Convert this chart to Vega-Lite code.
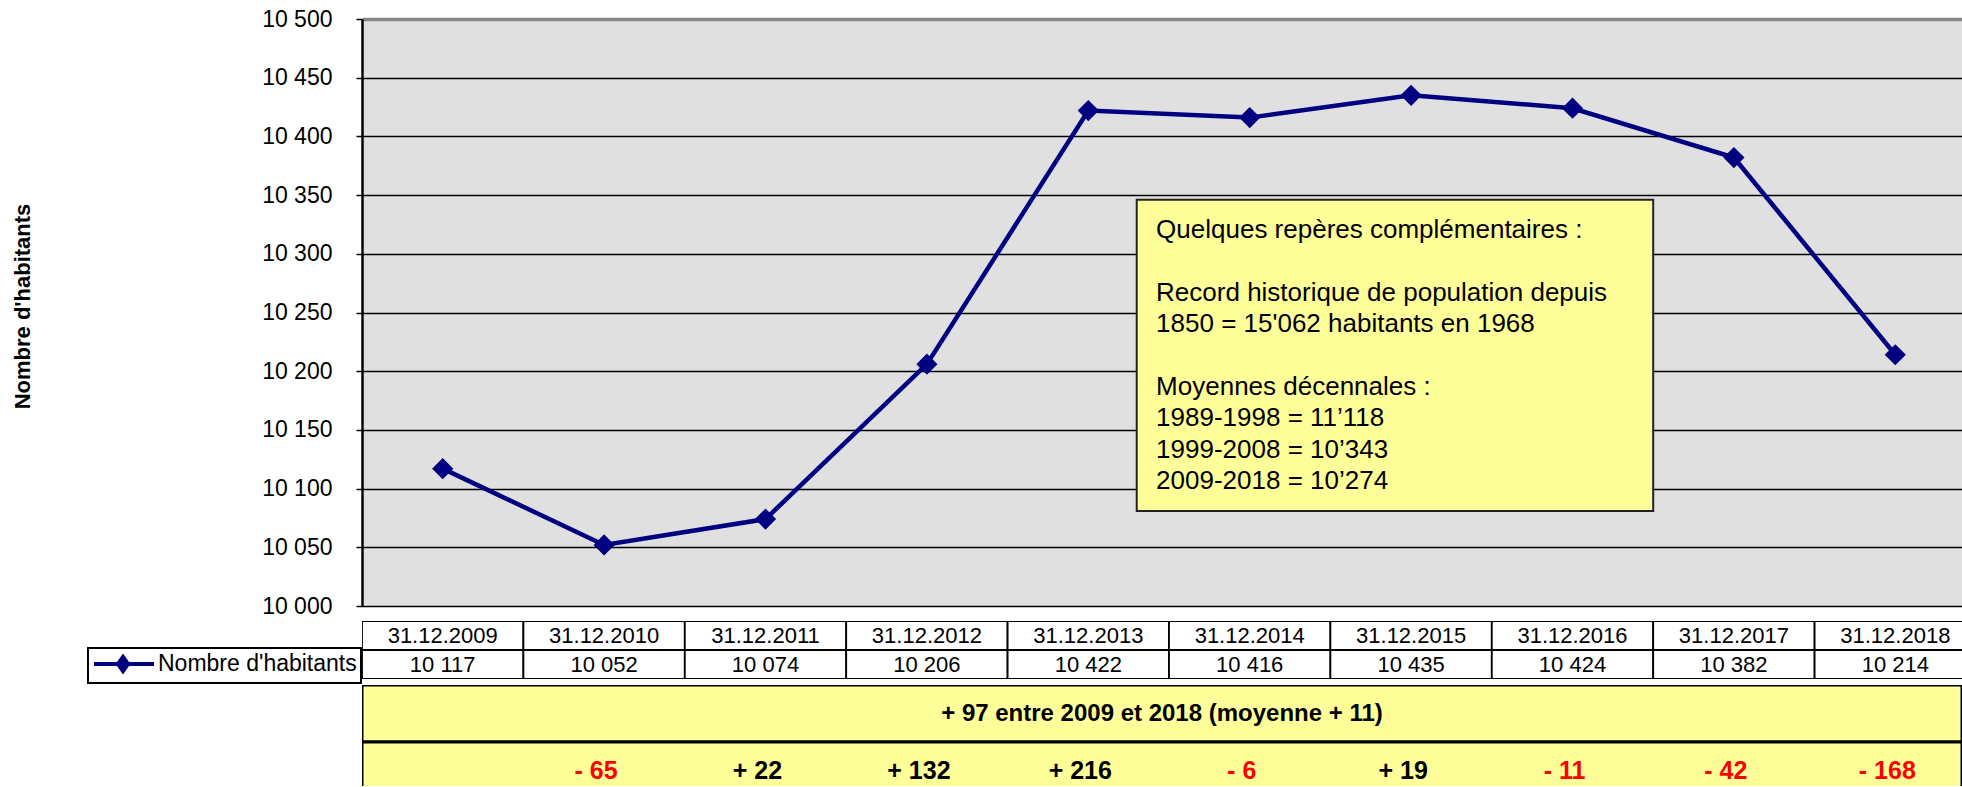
{
  "$schema": "https://vega.github.io/schema/vega-lite/v6.json",
  "padding": {"left": 11, "top": 8, "right": 0, "bottom": 0},
  "config": {
    "font": "Liberation Sans",
    "view": {"stroke": null},
    "locale": {"number": {"decimal": ",", "thousands": " ", "grouping": [3], "currency": ["", ""]}},
    "axis": {"labelColor": "#000000", "titleColor": "#000000"}
  },
  "datasets": {
    "pop": [
      {"date": "31.12.2009", "habitants": 10117, "delta": null, "deltaLabel": ""},
      {"date": "31.12.2010", "habitants": 10052, "delta": -65, "deltaLabel": "- 65"},
      {"date": "31.12.2011", "habitants": 10074, "delta": 22, "deltaLabel": "+ 22"},
      {"date": "31.12.2012", "habitants": 10206, "delta": 132, "deltaLabel": "+ 132"},
      {"date": "31.12.2013", "habitants": 10422, "delta": 216, "deltaLabel": "+ 216"},
      {"date": "31.12.2014", "habitants": 10416, "delta": -6, "deltaLabel": "- 6"},
      {"date": "31.12.2015", "habitants": 10435, "delta": 19, "deltaLabel": "+ 19"},
      {"date": "31.12.2016", "habitants": 10424, "delta": -11, "deltaLabel": "- 11"},
      {"date": "31.12.2017", "habitants": 10382, "delta": -42, "deltaLabel": "- 42"},
      {"date": "31.12.2018", "habitants": 10214, "delta": -168, "deltaLabel": "- 168"}
    ],
    "notes": [
      {"top": 10331, "lines": ["Quelques repères complémentaires :"]},
      {"top": 10278, "lines": ["Record historique de population depuis", "1850 = 15'062 habitants en 1968"]},
      {"top": 10197.6, "lines": ["Moyennes décennales :", "1989-1998 = 11’118", "1999-2008 = 10’343", "2009-2018 = 10’274"]}
    ],
    "one": [{}]
  },
  "spacing": 15,
  "bounds": "flush",
  "resolve": {"scale": {"y": "independent", "color": "independent"}},
  "vconcat": [
    {
      "width": 1600,
      "height": 587,
      "view": {"fill": "#E0E0E0", "stroke": null},
      "data": {"name": "pop"},
      "layer": [
        {
          "data": {"name": "one"},
          "mark": {"type": "rect", "fill": "#FFFF99", "stroke": "#222222", "strokeWidth": 2},
          "encoding": {
            "x": {"datum": "31.12.2013", "type": "ordinal", "bandPosition": 0.8,
              "scale": {"type": "band", "domain": ["31.12.2009","31.12.2010","31.12.2011","31.12.2012","31.12.2013","31.12.2014","31.12.2015","31.12.2016","31.12.2017","31.12.2018"], "range": [0, 1614], "paddingInner": 0, "paddingOuter": 0},
              "axis": null},
            "x2": {"datum": "31.12.2017", "bandPosition": 0},
            "y": {"datum": 10346, "type": "quantitative"},
            "y2": {"datum": 10081}
          }
        },
        {
          "data": {"name": "notes"},
          "mark": {"type": "text", "align": "left", "baseline": "top", "fontSize": 26, "lineHeight": 31.4, "color": "#000000"},
          "encoding": {
            "x": {"datum": "31.12.2013", "type": "ordinal", "bandPosition": 0.92},
            "y": {"field": "top", "type": "quantitative"},
            "text": {"field": "lines"}
          }
        },
        {
          "mark": {"type": "line", "strokeWidth": 4.5},
          "encoding": {
            "x": {"field": "date", "type": "ordinal"},
            "y": {"field": "habitants", "type": "quantitative",
              "scale": {"domain": [10000, 10500], "nice": false, "zero": false},
              "axis": {
                "values": [10000, 10050, 10100, 10150, 10200, 10250, 10300, 10350, 10400, 10450, 10500],
                "format": ",d",
                "title": "Nombre d'habitants",
                "titleFontSize": 22, "titleFontWeight": "bold",
                "titleAngle": -90, "titleX": -340, "titleY": 287, "titleAlign": "center", "titleBaseline": "middle",
                "labelFontSize": 23, "labelPadding": 24,
                "tickSize": 6, "tickColor": "#000000", "tickWidth": 1.5,
                "domainColor": "#000000", "domainWidth": 2.5,
                "grid": true,
                "gridColor": {"condition": {"test": "datum.value === 10500", "value": "#888888"}, "value": "#000000"},
                "gridWidth": {"condition": {"test": "datum.value === 10500", "value": 3.5}, "value": 1.6},
                "gridOpacity": 1
              }},
            "color": {"datum": "Nombre d'habitants", "type": "nominal",
              "scale": {"range": ["#000080"]},
              "legend": {
                "orient": "none", "legendX": -274, "legendY": 629,
                "title": null,
                "padding": 4,
                "strokeColor": "#000000",
                "fillColor": "#FFFFFF",
                "symbolType": "M-1,0L5,0M1.9,-0.7L2.4,0L1.9,0.7L1.4,0Z",
                "symbolSize": 400,
                "symbolStrokeWidth": 4,
                "labelFontSize": 23,
                "labelOffset": 42,
                "labelLimit": 400,
                "labelColor": "#000000",
                "encode": {
                  "symbols": {"update": {"fill": {"value": "#000080"}, "stroke": {"value": "#000080"}, "strokeWidth": {"value": 4}, "opacity": {"value": 1}}},
                  "legend": {"update": {"strokeWidth": {"value": 2}}}
                }
              }}
          }
        },
        {
          "mark": {"type": "point", "shape": "diamond", "filled": true, "size": 450, "color": "#000080", "opacity": 1},
          "encoding": {
            "x": {"field": "date", "type": "ordinal"},
            "y": {"field": "habitants", "type": "quantitative"}
          }
        }
      ]
    },
    {
      "spacing": 6,
      "bounds": "flush",
      "resolve": {"scale": {"y": "independent"}},
      "vconcat": [
        {
          "width": 1600,
          "height": 58,
          "data": {"name": "pop"},
          "encoding": {
            "x": {"field": "date", "type": "ordinal",
              "scale": {"type": "band", "domain": ["31.12.2009","31.12.2010","31.12.2011","31.12.2012","31.12.2013","31.12.2014","31.12.2015","31.12.2016","31.12.2017","31.12.2018"], "range": [0, 1614], "paddingInner": 0, "paddingOuter": 0},
              "axis": null}
          },
          "layer": [
            {
              "mark": {"type": "rect", "fill": "#FFFFFF", "stroke": "#000000", "strokeWidth": 1.8, "clip": true},
              "encoding": {"y": {"datum": "h", "type": "nominal", "scale": {"domain": ["h", "v"], "paddingInner": 0, "paddingOuter": 0}, "axis": null}}
            },
            {
              "mark": {"type": "rect", "fill": "#FFFFFF", "stroke": "#000000", "strokeWidth": 1.8, "clip": true},
              "encoding": {"y": {"datum": "v", "type": "nominal"}}
            },
            {
              "mark": {"type": "text", "fontSize": 22, "color": "#000000"},
              "encoding": {"y": {"datum": "h", "type": "nominal"}, "text": {"field": "date"}}
            },
            {
              "mark": {"type": "text", "fontSize": 22, "color": "#000000"},
              "encoding": {"y": {"datum": "v", "type": "nominal"}, "text": {"field": "habitants", "type": "quantitative", "format": ",d"}}
            }
          ]
        },
        {
          "width": 1600,
          "height": 101,
          "layer": [
            {
              "data": {"name": "one"},
              "mark": {"type": "rect", "fill": "#FFFF99", "stroke": "#000000", "strokeWidth": 3, "clip": true},
              "encoding": {"y": {"datum": "r1", "type": "nominal", "scale": {"domain": ["r1", "r2"], "range": [0, 114], "paddingInner": 0, "paddingOuter": 0}, "axis": null}}
            },
            {
              "data": {"name": "one"},
              "mark": {"type": "rect", "fill": "#FFFF99", "stroke": "#000000", "strokeWidth": 3, "clip": true},
              "encoding": {"y": {"datum": "r2", "type": "nominal"}}
            },
            {
              "data": {"name": "one"},
              "mark": {"type": "text", "fontSize": 24, "fontWeight": "bold", "color": "#000000", "text": "+ 97 entre 2009 et 2018 (moyenne + 11)"},
              "encoding": {"y": {"datum": "r1", "type": "nominal"}}
            },
            {
              "data": {"name": "pop"},
              "mark": {"type": "text", "fontSize": 25, "fontWeight": "bold", "dx": -8},
              "encoding": {
                "x": {"field": "date", "type": "ordinal",
                  "scale": {"type": "band", "domain": ["31.12.2009","31.12.2010","31.12.2011","31.12.2012","31.12.2013","31.12.2014","31.12.2015","31.12.2016","31.12.2017","31.12.2018"], "range": [0, 1614], "paddingInner": 0, "paddingOuter": 0},
                  "axis": null},
                "y": {"datum": "r2", "type": "nominal"},
                "text": {"field": "deltaLabel"},
                "color": {"condition": {"test": "datum.delta < 0", "value": "#FF0000"}, "value": "#000000"}
              }
            }
          ]
        }
      ]
    }
  ]
}
